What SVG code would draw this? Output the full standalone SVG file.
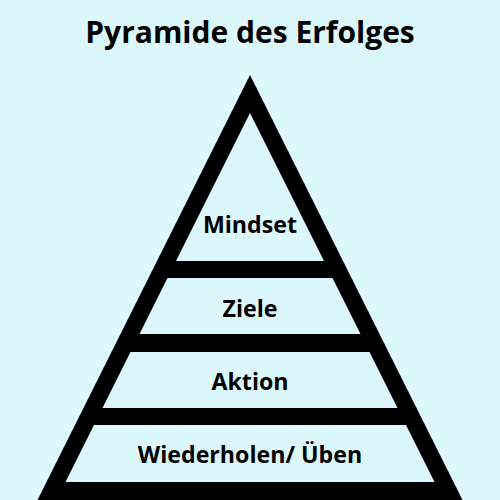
<svg xmlns="http://www.w3.org/2000/svg" width="500" height="500" viewBox="0 0 500 500">
  <style>
    .bg { fill: #dcf8fd; }
    .band { fill: #dcf8fd; }
    .frame { fill: #000000; }
    .title { font-family: "Open Sans", "Noto Sans", sans-serif; font-weight: 700; font-size: 30px; fill: #000; text-anchor: middle; }
    .label { font-family: "Open Sans", "Noto Sans", sans-serif; font-weight: 700; font-size: 23.2px; fill: #000; text-anchor: middle; }
  </style>
  <rect class="bg" x="0" y="0" width="500" height="500"/>
  <text class="title" x="250" y="43">Pyramide des Erfolges</text>
  <g id="pyramid">
    <polygon class="frame" points="250,75 467.5,510 32.5,510"/>
  </g>
  <g id="mindset">
    <polygon class="band" points="250,113 324,261 176,261"/>
    <text class="label" x="250" y="233">Mindset</text>
  </g>
  <g id="ziele">
    <polygon class="band" points="167.5,278 332.5,278 360.5,334 139.5,334"/>
    <text class="label" x="250" y="316.5">Ziele</text>
  </g>
  <g id="aktion">
    <polygon class="band" points="130.5,352 369.5,352 397.5,408 102.5,408"/>
    <text class="label" x="250" y="390">Aktion</text>
  </g>
  <g id="wiederholen">
    <polygon class="band" points="94,425 406,425 434.5,482 65.5,482"/>
    <text class="label" x="250" y="463">Wiederholen/ Üben</text>
  </g>
</svg>
